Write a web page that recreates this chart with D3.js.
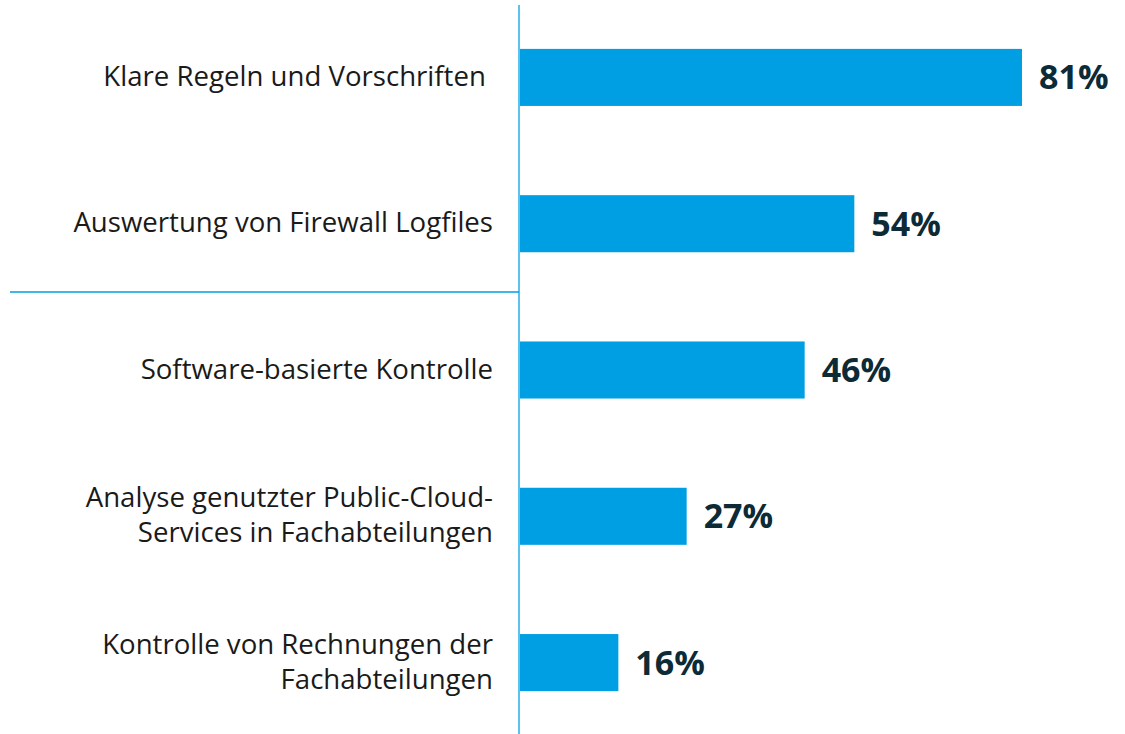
<!DOCTYPE html>
<html><head><meta charset="utf-8">
<script src="https://cdn.jsdelivr.net/npm/d3@7"></script>
<style>body{margin:0;background:#fff}svg{display:block}</style>
</head><body>
<svg id="c" width="1125" height="734"></svg>
<script>
const categories = [
  ["Klare Regeln und Vorschriften\u00a0"],
  ["Auswertung von Firewall Logfiles"],
  ["Software-basierte Kontrolle"],
  ["Analyse genutzter Public-Cloud-", "Services in Fachabteilungen"],
  ["Kontrolle von Rechnungen der", "Fachabteilungen"]
];
const values = [81, 54, 46, 27, 16];

const svg = d3.select("#c");
const x0 = 519;
const x = d3.scaleLinear().domain([0, 81]).range([x0, 1022]);
const y = d3.scaleBand().domain(d3.range(values.length)).range([5, 735]).paddingInner(0.61).paddingOuter(0.3);

svg.selectAll("rect.bar").data(values).join("rect")
  .attr("class","bar")
  .attr("x", x(0)).attr("y", (d,i)=>y(i))
  .attr("width", d=>x(d)-x(0)).attr("height", y.bandwidth())
  .attr("fill", "#009fe3");

svg.append("line").attr("x1", x0).attr("x2", x0).attr("y1", 5).attr("y2", 734)
  .attr("stroke", "#5bc2ee").attr("stroke-width", 2);
svg.append("line").attr("x1", 10).attr("x2", x0).attr("y1", 292).attr("y2", 292)
  .attr("stroke", "#009fe3").attr("stroke-width", 1.5);

const lab = svg.selectAll("text.lab").data(categories).join("text")
  .attr("class","lab")
  .attr("text-anchor","end")
  .attr("font-family","'Open Sans', sans-serif")
  .attr("font-size", 27.6)
  .attr("fill","#1a1a1a");
lab.each(function(lines,i){
  const t = d3.select(this);
  const cy = y(i) + y.bandwidth()/2;
  const lh = 35;
  const off = 8.5;
  lines.forEach((l,j)=>{
    t.append("tspan").attr("x", 493)
      .attr("y", cy + (j - (lines.length-1)/2)*lh + off)
      .text(l);
  });
});

svg.selectAll("text.val").data(values).join("text")
  .attr("class","val")
  .attr("x", d=>x(d)+17)
  .attr("y", (d,i)=>y(i)+y.bandwidth()/2 + 12)
  .attr("font-family","'Open Sans', sans-serif")
  .attr("font-weight","bold")
  .attr("font-size", 34)
  .attr("fill","#0d2b36")
  .text(d=>d+"%");
</script>
</body></html>
